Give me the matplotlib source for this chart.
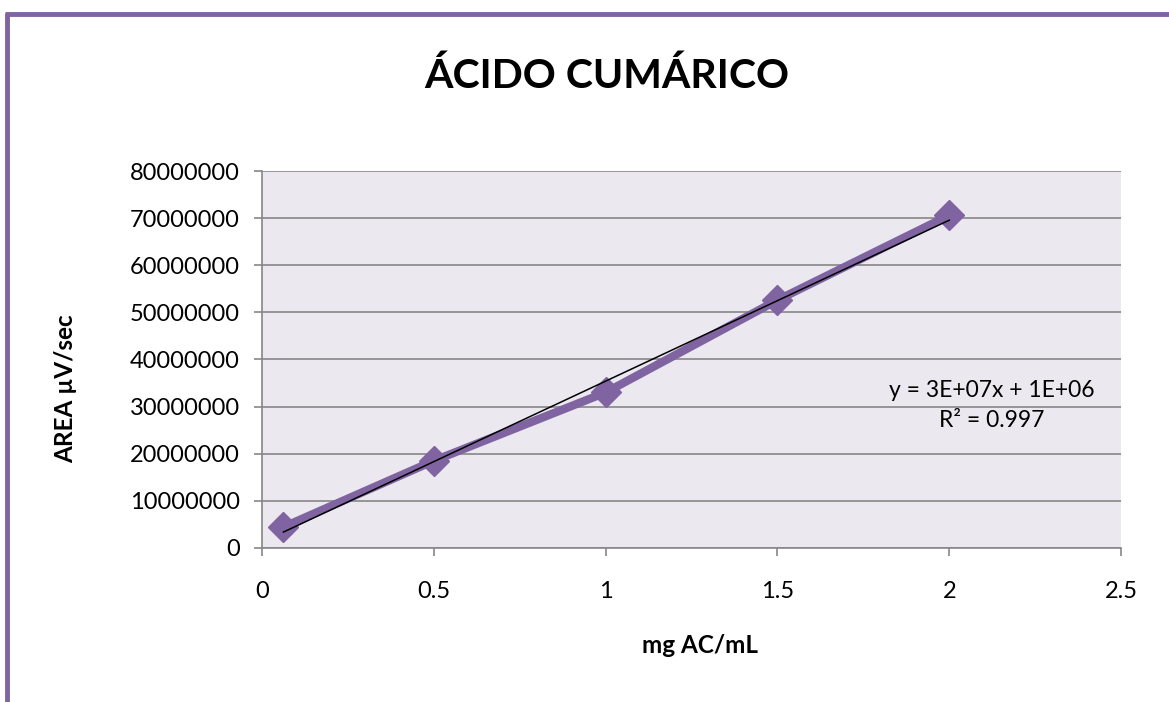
import numpy as np
import matplotlib
matplotlib.use("Agg")
import matplotlib.pyplot as plt
from matplotlib.lines import Line2D

# Data
conc = [0.0625, 0.5, 1.0, 1.5, 2.0]
area = [4.45e6, 18.5e6, 33.0e6, 52.6e6, 70.6e6]
yticks = [0, 10000000, 20000000, 30000000, 40000000, 50000000, 60000000, 70000000, 80000000]
xticks = [0, 0.5, 1, 1.5, 2, 2.5]
xtick_labels = ["0", "0.5", "1", "1.5", "2", "2.5"]
title = "ÁCIDO CUMÁRICO"
xlabel = "mg AC/mL"
ylabel = "AREA µV/sec"
eq_text = "y = 3E+07x + 1E+06\nR² = 0.997"

plt.rcParams['font.family'] = ['Lato', 'DejaVu Sans']

fig = plt.figure(figsize=(11.69, 7.02), dpi=100)
ax = fig.add_axes([0.2241, 0.2194, 0.959 - 0.2241, 0.7564 - 0.2194])
ax.set_facecolor('#EBE9EF')

purple = '#8064A2'
ax.plot(conc, area, color=purple, lw=6, marker='D', ms=15, mfc=purple, mec=purple,
        solid_joinstyle='miter', zorder=3)

# linear trendline
m, b = np.polyfit(conc, area, 1)
xs = np.array([conc[0], conc[-1]])
ax.plot(xs, m * xs + b, color='black', lw=1.1, zorder=4)

ax.set_xlim(0, 2.5)
ax.set_ylim(0, 80000000)
ax.set_xticks(xticks)
ax.set_xticklabels(xtick_labels)
ax.set_yticks(yticks)
ax.set_yticklabels([str(v) for v in yticks])
ax.yaxis.grid(True, color='#878787', lw=1.2)
ax.set_axisbelow(True)
for s in ['top', 'right']:
    ax.spines[s].set_visible(False)
for s in ['left', 'bottom']:
    ax.spines[s].set_color('#878787')
    ax.spines[s].set_linewidth(1.2)
ax.tick_params(axis='both', direction='out', length=6, width=1.2, color='#878787',
               labelsize=17, labelcolor='black')
ax.tick_params(axis='x', pad=18)
ax.tick_params(axis='y', pad=10)

ax.set_xlabel(xlabel, fontsize=17.5, fontweight='bold')
ax.set_ylabel(ylabel, fontsize=17.5, fontweight='bold')
ax.xaxis.set_label_coords(0.51, -0.228)
ax.yaxis.set_label_coords(-0.215, 0.422)

fig.text(0.519, 0.891, title, ha='center', va='center', fontsize=29.5, fontweight='bold')

ax.text(2.123, 30.2e6, eq_text, ha='center', va='center', fontsize=16.5, linespacing=1.5)

# purple chart border (top & left)
fig.add_artist(Line2D([5/1169, 1], [1 - 14/702, 1 - 14/702], color=purple, lw=3.5,
                      transform=fig.transFigure, solid_capstyle='butt'))
fig.add_artist(Line2D([7/1169, 7/1169], [0, 1 - 12.5/702], color=purple, lw=3.5,
                      transform=fig.transFigure, solid_capstyle='butt'))

fig.savefig('out.png', dpi=100)
